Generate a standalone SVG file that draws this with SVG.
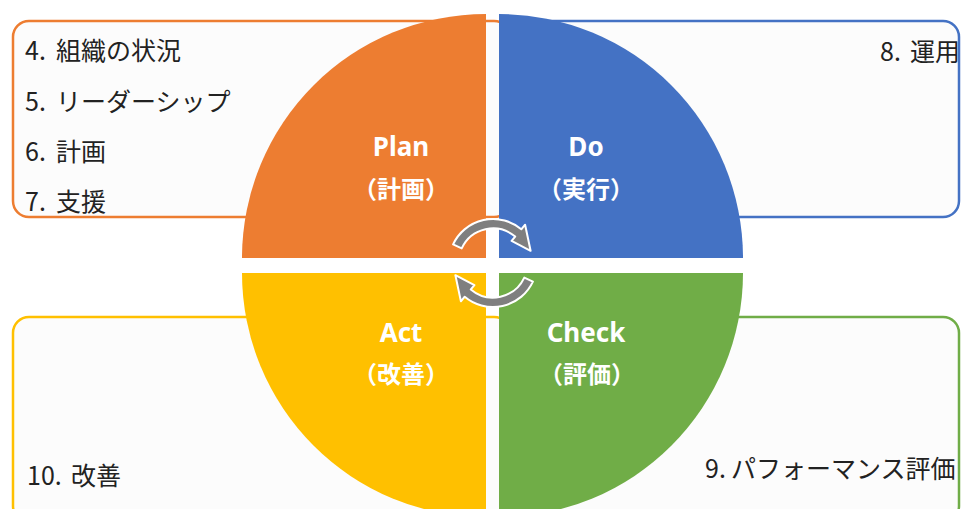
<svg xmlns="http://www.w3.org/2000/svg" width="961" height="509" viewBox="0 0 961 509">
<style>
.box{fill:#fcfcfc;stroke-width:2.5}
.txt{font-family:"Noto Sans CJK JP","Noto Sans",sans-serif;font-size:25px;fill:#222}
.lbl{font-family:"Noto Sans","Noto Sans CJK JP",sans-serif;font-weight:bold;font-size:26px;fill:#fff;text-anchor:middle}
.lblj{font-family:"Noto Sans CJK JP",sans-serif;font-weight:bold;font-size:24px;fill:#fff;text-anchor:middle}
.arr{fill:#7f7f7f;stroke:#fff;stroke-width:2;stroke-linejoin:round}
</style>
<rect width="961" height="509" fill="#fff"/>
<g id="box-do"><rect class="box" x="510" y="21" width="449" height="196" rx="16" stroke="#4472C4"/>
<text class="txt" y="61"><tspan x="880">8.</tspan><tspan x="910">運用</tspan></text>
</g>
<g id="box-plan"><rect class="box" x="13" y="21" width="497" height="196" rx="16" stroke="#ED7D31"/>
<text class="txt" y="60"><tspan x="25">4.</tspan><tspan x="56">組織の状況</tspan></text>
<text class="txt" y="110.5"><tspan x="25">5.</tspan><tspan x="56">リーダーシップ</tspan></text>
<text class="txt" y="161"><tspan x="25">6.</tspan><tspan x="56">計画</tspan></text>
<text class="txt" y="211"><tspan x="25">7.</tspan><tspan x="56">支援</tspan></text>
</g>
<g id="box-check"><rect class="box" x="510" y="317" width="449" height="205" rx="16" stroke="#70AD47"/>
<text class="txt" y="478"><tspan x="705">9.</tspan><tspan x="731">パフォーマンス評価</tspan></text>
</g>
<g id="box-act"><rect class="box" x="13" y="317" width="497" height="205" rx="16" stroke="#FFC000"/>
<text class="txt" y="484.5"><tspan x="27">10.</tspan><tspan x="71">改善</tspan></text>
</g>
<g id="plan"><path d="M486,258 L242,258 A244,244 0 0 1 486,14 Z" fill="#ED7D31"/>
<text class="lbl" x="401" y="156">Plan</text><text class="lblj" x="401" y="198">（計画）</text></g>
<g id="do"><path d="M499,258 L499,14 A244,244 0 0 1 743,258 Z" fill="#4472C4"/>
<text class="lbl" x="586" y="156">Do</text><text class="lblj" x="586" y="198">（実行）</text></g>
<g id="check"><path d="M499,273 L743,273 A244,244 0 0 1 499,517 Z" fill="#70AD47"/>
<text class="lbl" x="586" y="342">Check</text><text class="lblj" x="587" y="383">（評価）</text></g>
<g id="act"><path d="M486,273 L486,517 A244,244 0 0 1 242,273 Z" fill="#FFC000"/>
<text class="lbl" x="401" y="342">Act</text><text class="lblj" x="401" y="383">（改善）</text></g>
<g id="connectors">
<path class="arr" d="M453.1,244.4 A44,44 0 0 1 521.3,229.3 L525.1,224.7 L530.6,250.8 L511.6,240.8 L515.2,236.6 A34.5,34.5 0 0 0 461.7,248.4 Z"/>
<path class="arr" d="M532.9,281.6 A44,44 0 0 1 464.7,296.7 L460.9,301.3 L455.4,275.2 L474.4,285.2 L470.8,289.4 A34.5,34.5 0 0 0 524.3,277.6 Z"/>
</g>
</svg>
